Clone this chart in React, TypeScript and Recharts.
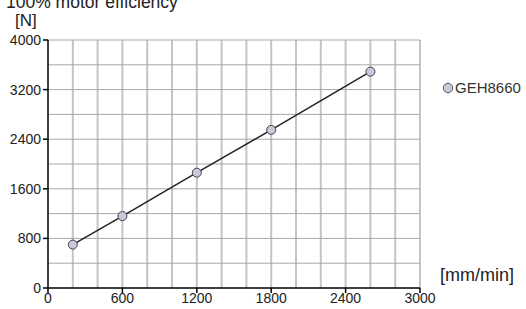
import { LineChart, Line, XAxis, YAxis, CartesianGrid } from "recharts";

const speeds = [200, 600, 1200, 1800, 2600];
const forces = [700, 1160, 1860, 2550, 3490];
const xTicks = [0, 600, 1200, 1800, 2400, 3000];
const yTicks = [0, 800, 1600, 2400, 3200, 4000];
const xGrid = [200, 400, 600, 800, 1000, 1200, 1400, 1600, 1800, 2000, 2200, 2400, 2600, 2800, 3000];
const yGrid = [400, 800, 1200, 1600, 2000, 2400, 2800, 3200, 3600, 4000];
const seriesName = "GEH8660";

const data = speeds.map((s, i) => ({ speed: s, force: forces[i] }));

const font = "'Liberation Sans', Arial, sans-serif";

export default function App() {
  return (
    <div style={{ position: "absolute", left: 0, top: 0, width: 526, height: 309, background: "#fff", fontFamily: font }}>
      <div style={{ position: "absolute", left: 6, top: -6, fontSize: 17.5, lineHeight: 1, color: "#222", whiteSpace: "nowrap" }}>
        100% motor efficiency
      </div>
      <div style={{ position: "absolute", left: 15, top: 12, fontSize: 17, lineHeight: 1, color: "#222" }}>[N]</div>
      <div style={{ position: "absolute", left: 440, top: 266, fontSize: 18, lineHeight: 1, color: "#222", whiteSpace: "nowrap" }}>
        [mm/min]
      </div>
      <LineChart width={526} height={309} data={data} margin={{ top: 40, right: 106, bottom: 0, left: 0 }}>
        <CartesianGrid horizontal={false} verticalValues={xGrid} stroke="#c4c4c4" strokeWidth={2} />
        <CartesianGrid vertical={false} horizontalValues={yGrid} stroke="#a8a8a8" strokeWidth={1} />
        <XAxis
          type="number"
          dataKey="speed"
          domain={[0, 3000]}
          ticks={xTicks}
          height={21}
          stroke="#000"
          strokeWidth={1.5}
          tickSize={5}
          tickMargin={0}
          tick={{ fill: "#222", fontSize: 14, fontFamily: font }}
          interval={0}
        />
        <YAxis
          type="number"
          domain={[0, 4000]}
          ticks={yTicks}
          width={48}
          stroke="#000"
          strokeWidth={1.5}
          tickSize={5}
          tickMargin={2}
          tick={{ fill: "#222", fontSize: 14, fontFamily: font }}
          interval={0}
        />
        <Line
          type="linear"
          dataKey="force"
          name={seriesName}
          stroke="#222"
          strokeWidth={1.5}
          dot={{ r: 4.5, fill: "#c9c9dc", stroke: "#444", strokeWidth: 1 }}
          isAnimationActive={false}
        />
      </LineChart>
      <div
        style={{
          position: "absolute",
          left: 442,
          top: 80,
          zIndex: 2,
          display: "flex",
          alignItems: "center",
          fontSize: 15,
          lineHeight: 1,
          color: "#333",
          whiteSpace: "nowrap",
        }}
      >
        <svg width={12} height={12} style={{ marginRight: 1 }}>
          <circle cx={6} cy={6} r={4.7} fill="#c9c9dc" stroke="#555" strokeWidth={1} />
        </svg>
        {seriesName}
      </div>
    </div>
  );
}
